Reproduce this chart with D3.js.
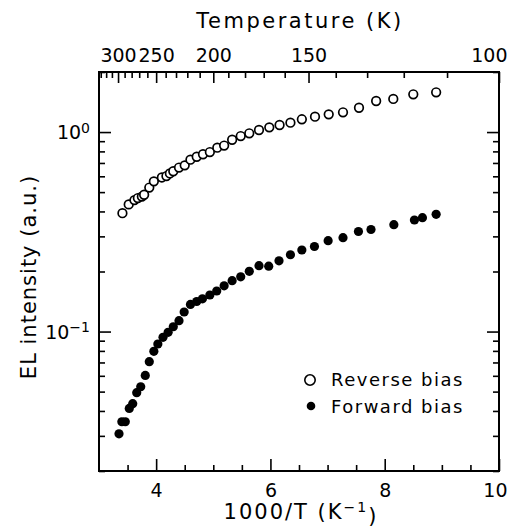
<!DOCTYPE html>
<html>
<head>
<meta charset="utf-8">
<script src="https://cdn.jsdelivr.net/npm/d3@7"></script>
<style>
  body { margin: 0; background: #fff; }
  svg text { font-family: "DejaVu Sans", sans-serif; fill: #000; }
</style>
</head>
<body>
<svg id="chart" width="510" height="530"></svg>
<script>
// 1000/T values and EL intensity (a.u.)
const reverseX = [3.41, 3.52, 3.62, 3.68, 3.75, 3.79, 3.88, 3.96, 4.10, 4.18, 4.24, 4.30, 4.40, 4.50,
  4.60, 4.71, 4.82, 4.94, 5.07, 5.19, 5.33, 5.48, 5.63, 5.80, 5.98, 6.16, 6.35, 6.55, 6.78,
  7.02, 7.27, 7.55, 7.85, 8.15, 8.50, 8.90];
const reverseY = [0.392, 0.434, 0.456, 0.467, 0.475, 0.485, 0.527, 0.566, 0.592, 0.602, 0.620, 0.636,
  0.664, 0.681, 0.727, 0.752, 0.774, 0.794, 0.835, 0.856, 0.915, 0.955, 0.986, 1.024, 1.056,
  1.085, 1.114, 1.159, 1.194, 1.227, 1.256, 1.324, 1.431, 1.465, 1.546, 1.582];

const forwardX = [3.35, 3.40, 3.46, 3.53, 3.59, 3.66, 3.73, 3.81, 3.88, 3.96, 4.03, 4.12, 4.21, 4.30,
  4.40, 4.49, 4.60, 4.71, 4.81, 4.94, 5.06, 5.19, 5.33, 5.48, 5.63, 5.80, 5.97, 6.15, 6.35,
  6.55, 6.77, 7.01, 7.27, 7.54, 7.76, 8.16, 8.52, 8.66, 8.90];
const forwardY = [0.0307, 0.0353, 0.0353, 0.0412, 0.0435, 0.0494, 0.0529, 0.0603, 0.0706, 0.0796,
  0.0866, 0.0936, 0.0991, 0.1057, 0.1134, 0.1253, 0.1367, 0.1415, 0.1459, 0.1525, 0.1597,
  0.1696, 0.1798, 0.1881, 0.2004, 0.2138, 0.2126, 0.2262, 0.2427, 0.2563, 0.2669, 0.2853,
  0.2954, 0.3174, 0.3248, 0.3432, 0.3623, 0.3721, 0.3870];

const xMajor = [4, 6, 8, 10];
const xMinor = [3.5, 4.5, 5, 5.5, 6.5, 7, 7.5, 8.5, 9, 9.5];
const tempMajor = [300, 250, 200, 150, 100];
const tempMinor = [330, 320, 310, 290, 280, 270, 260, 240, 230, 220, 210, 190, 180, 170, 160, 140, 130, 120, 110];
const yMajor = [0.1, 1];
const yMinor = [0.02, 0.03, 0.04, 0.05, 0.06, 0.07, 0.08, 0.09, 0.2, 0.3, 0.4, 0.5, 0.6, 0.7, 0.8, 0.9, 2];

const margin = {top: 72, right: 11, bottom: 59, left: 99};
const width = 510, height = 530;

const svg = d3.select("#chart");

const x = d3.scaleLinear().domain([3, 10]).range([margin.left, width - margin.right]);
const y = d3.scaleLog().domain([0.02, 2]).range([height - margin.bottom, margin.top]);

const x0 = margin.left, x1 = width - margin.right, y0 = margin.top, y1 = height - margin.bottom;

// last label at the right edge is pulled inside like in the original
const pullLast = g => g.selectAll(".tick text")
  .filter((d, i, n) => i === n.length - 1)
  .attr("text-anchor", "end").attr("x", 8);

// bottom axis, ticks pointing in
svg.append("g").attr("transform", `translate(0,${y1})`)
  .call(d3.axisBottom(x).tickValues(xMajor).tickSize(-12).tickPadding(8).tickFormat(d3.format("d")))
  .call(g => g.select(".domain").remove())
  .call(g => g.selectAll("text").style("font-size", "19px").attr("dy", "0.95em"))
  .call(pullLast);
svg.append("g").attr("transform", `translate(0,${y1})`)
  .call(d3.axisBottom(x).tickValues(xMinor).tickSize(-6).tickFormat(""))
  .call(g => g.select(".domain").remove());

// top axis: temperature
svg.append("g").attr("transform", `translate(0,${y0})`)
  .call(d3.axisTop(x).tickValues(tempMajor.map(t => 1000 / t)).tickSize(-11).tickPadding(10)
    .tickFormat((d, i) => tempMajor[i]))
  .call(g => g.select(".domain").remove())
  .call(g => g.selectAll("text").style("font-size", "19px"))
  .call(pullLast);
svg.append("g").attr("transform", `translate(0,${y0})`)
  .call(d3.axisTop(x).tickValues(tempMinor.map(t => 1000 / t)).tickSize(-6).tickFormat(""))
  .call(g => g.select(".domain").remove());

// left and right axes
const left = svg.append("g").attr("transform", `translate(${x0},0)`)
  .call(d3.axisLeft(y).tickValues(yMajor).tickSize(-12).tickPadding(9).tickFormat(() => ""))
  .call(g => g.select(".domain").remove());
left.selectAll(".tick text").each(function(d) {
  const t = d3.select(this).style("font-size", "19px").attr("dy", "0.35em");
  t.append("tspan").text("10");
  t.append("tspan").attr("dy", "-0.45em").style("font-size", "14px").text(Math.round(Math.log10(d)) === 0 ? "0" : "−1");
});
svg.append("g").attr("transform", `translate(${x0},0)`)
  .call(d3.axisLeft(y).tickValues(yMinor).tickSize(-6).tickFormat(""))
  .call(g => g.select(".domain").remove());
svg.append("g").attr("transform", `translate(${x1},0)`)
  .call(d3.axisRight(y).tickValues(yMajor).tickSize(-12).tickFormat(""))
  .call(g => g.select(".domain").remove());
svg.append("g").attr("transform", `translate(${x1},0)`)
  .call(d3.axisRight(y).tickValues(yMinor).tickSize(-6).tickFormat(""))
  .call(g => g.select(".domain").remove());

svg.selectAll(".tick line").attr("stroke", "#000").attr("stroke-width", 1.6);

// frame
svg.append("rect")
  .attr("x", x0).attr("y", y0).attr("width", x1 - x0).attr("height", y1 - y0)
  .attr("fill", "none").attr("stroke", "#000").attr("stroke-width", 2);

// data
svg.append("g").selectAll("circle")
  .data(reverseX.map((d, i) => [d, reverseY[i]]))
  .join("circle")
  .attr("cx", d => x(d[0])).attr("cy", d => y(d[1])).attr("r", 4.3)
  .attr("fill", "#fff").attr("stroke", "#000").attr("stroke-width", 1.7);

svg.append("g").selectAll("circle")
  .data(forwardX.map((d, i) => [d, forwardY[i]]))
  .join("circle")
  .attr("cx", d => x(d[0])).attr("cy", d => y(d[1])).attr("r", 4.6)
  .attr("fill", "#000");

// legend
const leg = svg.append("g");
leg.append("circle").attr("cx", 310).attr("cy", 380).attr("r", 5.2)
  .attr("fill", "none").attr("stroke", "#000").attr("stroke-width", 1.6);
leg.append("text").attr("x", 331).attr("y", 386).style("font-size", "18px").style("letter-spacing", "1.5px").text("Reverse bias");
leg.append("circle").attr("cx", 311).attr("cy", 406).attr("r", 4.3).attr("fill", "#000");
leg.append("text").attr("x", 331).attr("y", 413).style("font-size", "18px").style("letter-spacing", "1.5px").text("Forward bias");

// axis titles
svg.append("text").attr("x", 301).attr("y", 519).attr("text-anchor", "middle")
  .style("font-size", "21px").style("letter-spacing", "2px")
  .call(t => {
    t.append("tspan").text("1000/T (K");
    t.append("tspan").attr("dy", "-0.5em").style("font-size", "14px").text("−1");
    t.append("tspan").attr("dy", "0.5em").text(")");
  });

svg.append("text").attr("x", 300).attr("y", 28).attr("text-anchor", "middle")
  .style("font-size", "21px").style("letter-spacing", "2.5px").text("Temperature (K)");

svg.append("text").attr("transform", "translate(36,277) rotate(-90)").attr("text-anchor", "middle")
  .style("font-size", "21px").style("letter-spacing", "1px").text("EL intensity (a.u.)");
</script>
</body>
</html>
